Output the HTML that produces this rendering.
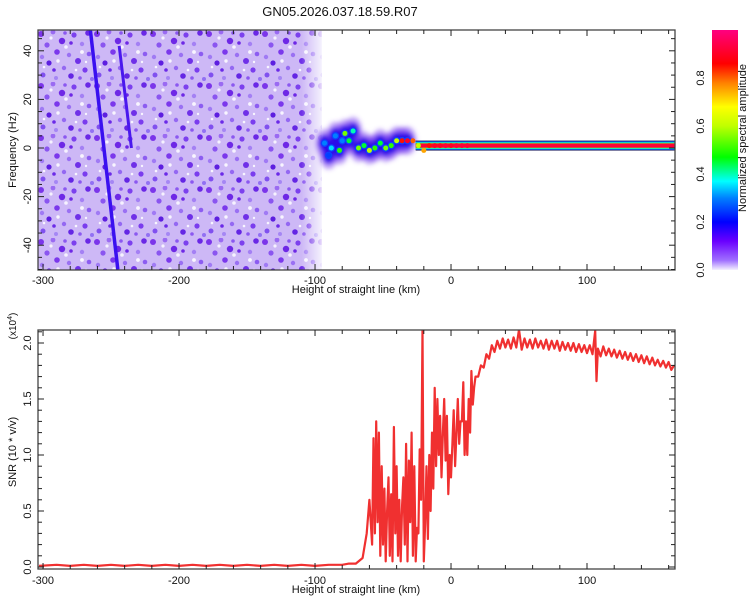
<!DOCTYPE html>
<html><head><meta charset="utf-8"><style>
html,body{margin:0;padding:0;background:#fff;}
svg{display:block;font-family:"Liberation Sans",sans-serif;}
</style></head><body>
<svg id="chart" width="750" height="600" viewBox="0 0 750 600">
<defs>
<pattern id="noise" x="38" y="30" width="56" height="52" patternUnits="userSpaceOnUse">
<rect width="56" height="52" fill="#cdb8f6"/>
<circle cx="3" cy="4" r="3" fill="#7b35ea"/>
<circle cx="15" cy="2" r="2.4" fill="#9a6af2"/>
<circle cx="24" cy="11" r="3.2" fill="#6e28e6"/>
<circle cx="9" cy="15" r="2.6" fill="#8a55f0"/>
<circle cx="19" cy="22" r="2.8" fill="#7b38ec"/>
<circle cx="4" cy="27" r="2.2" fill="#a07af4"/>
<circle cx="31" cy="25" r="2.2" fill="#9a70f3"/>
<circle cx="13" cy="8" r="1.6" fill="#f6f2ff"/>
<circle cx="28" cy="17" r="1.8" fill="#f6f2ff"/>
<circle cx="11" cy="33" r="2.6" fill="#5d1ee0"/>
<circle cx="36" cy="5" r="2.6" fill="#7c40ee"/>
<circle cx="44" cy="14" r="2.2" fill="#a480f4"/>
<circle cx="50" cy="3" r="2.8" fill="#6a28e6"/>
<circle cx="40" cy="31" r="3" fill="#6f30e8"/>
<circle cx="51" cy="24" r="2.3" fill="#8c5cf1"/>
<circle cx="47" cy="40" r="2.6" fill="#7a3cee"/>
<circle cx="26" cy="38" r="2.2" fill="#9468f2"/>
<circle cx="33" cy="46" r="2.8" fill="#6426e4"/>
<circle cx="5" cy="45" r="2.5" fill="#8050ef"/>
<circle cx="18" cy="48" r="2" fill="#a586f4"/>
<circle cx="54" cy="49" r="2" fill="#9270f3"/>
<circle cx="20" cy="31" r="1.7" fill="#f8f5ff"/>
<circle cx="44" cy="22" r="1.9" fill="#f8f5ff"/>
<circle cx="38" cy="40" r="1.3" fill="#f8f5ff"/>
<circle cx="6" cy="37" r="1.3" fill="#f8f5ff"/>
<circle cx="16" cy="40" r="1.8" fill="#6b2ae8"/>
<circle cx="33" cy="13" r="1.8" fill="#6e28e6"/>
<circle cx="48" cy="32" r="1.2" fill="#f8f5ff"/>
<circle cx="27" cy="3" r="1.8" fill="#8b58f0"/>
<circle cx="42" cy="48" r="1.8" fill="#8b58f0"/>
</pattern>
<linearGradient id="cbar" x1="0" y1="1" x2="0" y2="0">
<stop offset="0" stop-color="#f4f0ff"/>
<stop offset="0.04" stop-color="#a070ff"/>
<stop offset="0.12" stop-color="#6a00ff"/>
<stop offset="0.2" stop-color="#0000ff"/>
<stop offset="0.3" stop-color="#0080ff"/>
<stop offset="0.37" stop-color="#00ffff"/>
<stop offset="0.47" stop-color="#00ff00"/>
<stop offset="0.6" stop-color="#c0ff00"/>
<stop offset="0.68" stop-color="#ffff00"/>
<stop offset="0.78" stop-color="#ff8000"/>
<stop offset="0.86" stop-color="#ff0000"/>
<stop offset="1" stop-color="#ff0080"/>
</linearGradient>
<linearGradient id="fade" x1="0" x2="1">
<stop offset="0" stop-color="#fff" stop-opacity="0"/>
<stop offset="1" stop-color="#fff" stop-opacity="0.85"/>
</linearGradient>
<filter id="blur" x="-50%" y="-50%" width="200%" height="200%"><feGaussianBlur stdDeviation="2.5"/></filter>
<clipPath id="clipTop"><rect x="38" y="30" width="637" height="240"/></clipPath>
<clipPath id="clipBot"><rect x="38" y="330" width="637" height="239"/></clipPath>
</defs>
<text x="340" y="16" font-size="13" text-anchor="middle" fill="#111">GN05.2026.037.18.59.R07</text>
<g id="top"></g>
<g id="cb"></g>
<g id="bot"></g>
</svg>
<script>
// ---- data ----
const xTicks = [-300,-200,-100,0,100];
const fTicks = [-40,-20,0,20,40];
const snrTicks = [0.0,0.5,1.0,1.5,2.0];
const cbTicks = [0.0,0.2,0.4,0.6,0.8];
const noiseStart = -303.7, noiseEnd = -95;
const streakH1 = [-265.5,-245], streakF1 = [50,-50];
const streakH2 = [-244,-235], streakF2 = [42,0];
const ridgeH = [-93,-90,-88,-85,-82,-80,-78,-75,-72,-68,-64,-60,-56,-52,-48,-44,-40,-36,-32,-28,-24,-20,-16,-12,-8,-4,0,4,8,12];
const ridgeF = [2,-3,0,5,-1,3,6,3,7,0,1,-1,0,2,0,1,3,3,3,3,1,-1,1,1,1,1,1,1,1,1];
const ridgeA = [0.3,0.25,0.35,0.3,0.5,0.3,0.55,0.45,0.4,0.55,0.45,0.6,0.5,0.45,0.55,0.5,0.6,0.85,0.9,0.8,0.6,0.75,0.85,0.9,0.9,0.92,0.9,0.92,0.92,0.92];
const bandStart = -26, bandEnd = 165, bandF = 1, bandA = 0.92;
const snrH = [-303,-290,-280,-270,-260,-250,-240,-230,-220,-210,-200,-190,-180,-170,-160,-150,-140,-130,-120,-110,-100,-90,-80,-75,-70,-65,-62,-60,-58,-57,-56,-55,-54,-53,-52,-51,-50,-49,-48,-47,-46,-45,-44,-43,-42,-41,-40,-39,-38,-37,-36,-35,-34,-33,-32,-31,-30,-29,-28,-27,-26,-25,-24,-23,-22,-21,-20,-19,-18,-17,-16,-15,-14,-13,-12,-11,-10,-9,-8,-7,-6,-5,-4,-3,-2,-1,0,1,2,3,4,5,6,7,8,9,10,11,12,13,14,15,16,17,18,20,22,24,26,28,30,32,34,36,38,40,42,44,46,48,50,52,54,56,58,60,62,64,66,68,70,72,74,76,78,80,82,84,86,88,90,92,94,96,98,100,102,104,106,107,108,110,112,114,116,118,120,122,124,126,128,130,132,134,136,138,140,142,144,146,148,150,152,154,156,158,160,162,164];
const snrV = [0.01,0.02,0.01,0.02,0.01,0.02,0.01,0.02,0.01,0.02,0.01,0.02,0.01,0.02,0.01,0.02,0.01,0.02,0.01,0.02,0.01,0.02,0.02,0.03,0.03,0.08,0.3,0.6,0.2,1.15,0.3,1.3,0.4,1.2,0.1,0.9,0.2,0.7,0.05,0.5,0.8,0.1,0.65,0.05,1.25,0.3,0.9,0.1,0.6,0.05,0.55,0.8,0.2,1.1,0.05,0.95,0.4,1.2,0.1,0.9,0.05,0.35,0.3,1.05,0.6,2.13,0.05,0.4,0.9,0.25,1.0,0.5,1.2,0.7,1.6,0.9,1.5,1.0,1.35,0.8,1.2,1.5,0.95,1.35,0.65,1.0,0.8,1.1,1.4,0.9,1.2,1.5,1.1,1.3,1.3,1.65,1.0,1.3,1.0,1.5,1.2,1.75,1.45,1.6,1.7,1.70,1.80,1.78,1.90,1.86,1.98,1.92,2.02,1.95,2.04,1.96,2.03,1.95,2.05,1.96,2.12,1.94,2.04,1.96,2.03,1.95,2.04,1.96,2.02,1.95,2.03,1.94,2.02,1.95,2.02,1.93,2.01,1.94,2.0,1.93,2.0,1.92,1.99,1.92,1.98,1.91,1.98,1.90,2.11,1.66,1.95,1.88,1.97,1.89,1.95,1.88,1.94,1.87,1.93,1.86,1.92,1.85,1.91,1.84,1.90,1.83,1.89,1.82,1.88,1.81,1.87,1.80,1.85,1.79,1.84,1.78,1.83,1.76,1.80];

// ---- scales ----
const NS='http://www.w3.org/2000/svg';
const L=38,R=675;
const xs=h=>L+(h+303.7)*(R-L)/468.4;
const yf=f=>148-f*2.43;
const ys=v=>567-v*112;
function mk(tag,attrs,parent){const el=document.createElementNS(NS,tag);for(const k in attrs)el.setAttribute(k,attrs[k]);parent.appendChild(el);return el;}
function cmap(a){
  const st=[[0,[244,240,255]],[0.04,[160,112,255]],[0.12,[106,0,255]],[0.2,[0,0,255]],[0.3,[0,128,255]],[0.37,[0,255,255]],[0.47,[0,255,0]],[0.6,[192,255,0]],[0.68,[255,255,0]],[0.78,[255,128,0]],[0.86,[255,0,0]],[1,[255,0,128]]];
  for(let i=1;i<st.length;i++){if(a<=st[i][0]){const t=(a-st[i-1][0])/(st[i][0]-st[i-1][0]);const c=st[i-1][1].map((v,j)=>Math.round(v+(st[i][1][j]-v)*t));return `rgb(${c})`;}}
  return 'rgb(255,0,128)';
}

// ---- top panel ----
const topG=document.getElementById('top');
const tg=mk('g',{'clip-path':'url(#clipTop)'},topG);
let e=mk('rect',{x:xs(noiseStart),y:30,width:xs(noiseEnd)-xs(noiseStart),height:240,fill:'url(#noise)'},tg);


e=mk('rect',{x:xs(-110),y:30,width:xs(noiseEnd)-xs(-110)+1,height:240,fill:'url(#fade)'},tg);


e=mk('line',{x1:xs(streakH1[0]),y1:yf(streakF1[0]),x2:xs(streakH1[1]),y2:yf(streakF1[1]),stroke:'#3a10f0','stroke-width':3.5},tg);


e=mk('line',{x1:xs(streakH2[0]),y1:yf(streakF2[0]),x2:xs(streakH2[1]),y2:yf(streakF2[1]),stroke:'#4a18ee','stroke-width':3},tg);


const halo=mk('g',{filter:'url(#blur)'},tg);
for(let i=0;i<ridgeH.length;i++){
  if(ridgeH[i]>-30)continue;
  e=mk('ellipse',{cx:xs(ridgeH[i]),cy:yf(ridgeF[i]),rx:9,ry:14,fill:'#7a3cef','fill-opacity':0.5},halo);
  
  
}
for(let i=0;i<ridgeH.length;i++){
  if(ridgeH[i]>-30)continue;
  e=mk('ellipse',{cx:xs(ridgeH[i]),cy:yf(ridgeF[i]),rx:5.5,ry:8,fill:'#2a10e8'},halo);
  
  
}
const bx1=xs(bandStart),bx2=xs(bandEnd),by=yf(bandF);
[[5,'#202060'],[4.2,'#0060ff'],[3.4,'#00e8e0'],[2.7,'#60ff30'],[2.1,cmap(bandA)]].forEach(s=>{
  e=mk('rect',{x:bx1,y:by-s[0],width:bx2-bx1,height:s[0]*2,fill:s[1]},tg);
  
  
});
for(let i=0;i<ridgeH.length;i++){
  if(ridgeH[i]>-30)continue;
  e=mk('circle',{cx:xs(ridgeH[i]),cy:yf(ridgeF[i]),r:3.8,fill:'#1040ff'},tg);
  
  
}
for(let i=0;i<ridgeH.length;i++){
  e=mk('circle',{cx:xs(ridgeH[i]),cy:yf(ridgeF[i]),r:2.5,fill:cmap(ridgeA[i])},tg);
  
  
}
function frame(g,y0,y1,name){
  const f=mk('rect',{x:L,y:y0,width:R-L,height:y1-y0,fill:'none',stroke:'#444','stroke-width':1.3},g);
  
  
}
function xAxis(g,y0,y1,labY){
  for(let h=-300;h<=160;h+=20){
    const x=xs(h),big=xTicks.includes(h)?6:4;
    mk('line',{x1:x,y1:y1,x2:x,y2:y1-big,stroke:'#222'},g);
    mk('line',{x1:x,y1:y0,x2:x,y2:y0+big,stroke:'#222'},g);
  }
  xTicks.forEach(h=>{const t=mk('text',{x:xs(h),y:labY,'font-size':11,'text-anchor':'middle',fill:'#111'},g);t.textContent=h;
    
    });
  const t=mk('text',{x:356,y:labY+9,'font-size':11,'text-anchor':'middle',fill:'#111'},g);t.textContent='Height of straight line (km)';
  
  
}
frame(topG,30,270,'spectrogram-frame');
xAxis(topG,30,270,284);
for(let f=-50;f<=45;f+=5){
  const y=yf(f),big=fTicks.includes(f)||f===0?6:4;
  mk('line',{x1:L,y1:y,x2:L+big,y2:y,stroke:'#222'},topG);
  mk('line',{x1:R,y1:y,x2:R-big,y2:y,stroke:'#222'},topG);
}
fTicks.forEach(f=>{const t=mk('text',{x:0,y:0,'font-size':11,'text-anchor':'middle',fill:'#111',transform:`translate(31,${yf(f)}) rotate(-90)`},topG);t.textContent=f;
  
  });
e=mk('text',{x:0,y:0,'font-size':11,'text-anchor':'middle',fill:'#111',transform:'translate(16,150) rotate(-90)'},topG);
e.textContent='Frequency (Hz)';



// ---- colorbar ----
const cbG=document.getElementById('cb');
e=mk('rect',{x:712,y:30,width:26,height:240,fill:'url(#cbar)'},cbG);


const cyS=v=>270-v*240;
cbTicks.forEach(v=>{const t=mk('text',{x:0,y:0,'font-size':11,'text-anchor':'middle',fill:'#111',transform:`translate(704,${cyS(v)}) rotate(-90)`},cbG);t.textContent=v.toFixed(1);
  
  });
e=mk('text',{x:0,y:0,'font-size':11,'text-anchor':'middle',fill:'#111',transform:'translate(746,138) rotate(-90)'},cbG);
e.textContent='Normalized spectral amplitude';



// ---- bottom panel ----
const botG=document.getElementById('bot');
const bg=mk('g',{'clip-path':'url(#clipBot)'},botG);
let d='';
for(let i=0;i<snrH.length;i++)d+=(i?'L':'M')+xs(snrH[i]).toFixed(1)+','+ys(snrV[i]).toFixed(1);
e=mk('path',{d:d,fill:'none',stroke:'#f03030','stroke-width':2.2,'stroke-linejoin':'round'},bg);


frame(botG,330,569,'snr-frame');
xAxis(botG,330,569,584);
for(let k=0;k<=21;k++){
  const v=k/10,y=ys(v),big=(k%5===0)?6:4;
  mk('line',{x1:L,y1:y,x2:L+big,y2:y,stroke:'#222'},botG);
  mk('line',{x1:R,y1:y,x2:R-big,y2:y,stroke:'#222'},botG);
}
snrTicks.forEach(v=>{const t=mk('text',{x:0,y:0,'font-size':11,'text-anchor':'middle',fill:'#111',transform:`translate(31,${ys(v)}) rotate(-90)`},botG);t.textContent=v.toFixed(1);
  
  });
e=mk('text',{x:0,y:0,'font-size':11,'text-anchor':'middle',fill:'#111',transform:'translate(16,452) rotate(-90)'},botG);
e.textContent='SNR (10 * v/v)';


e=mk('text',{x:0,y:0,'font-size':10,'text-anchor':'middle',fill:'#111',transform:'translate(16,326) rotate(-90)'},botG);
e.innerHTML='(x10<tspan dy="-4" font-size="7">4</tspan><tspan dy="4">)</tspan>';


</script>
</body></html>
